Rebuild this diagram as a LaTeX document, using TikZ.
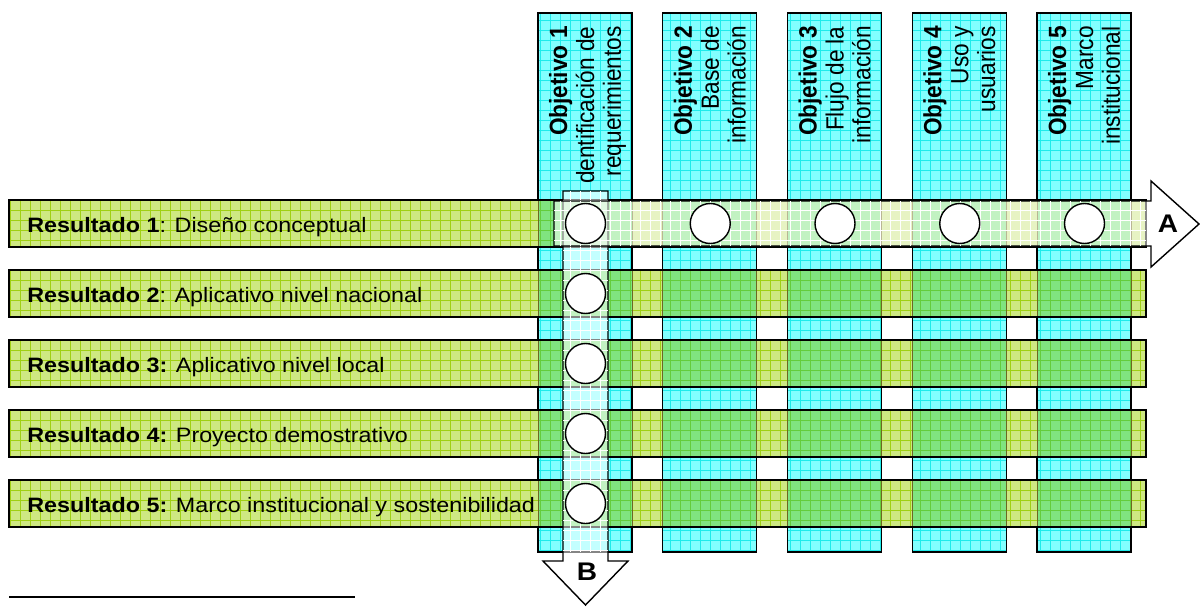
\documentclass[tikz,border=0pt]{standalone}
\usepackage{fontspec}
\setmainfont{Liberation Sans}
\usetikzlibrary{calc}

\definecolor{colfill}{RGB}{130,255,255}
\definecolor{colgrid}{RGB}{30,235,235}
\definecolor{rowfill}{RGB}{206,232,130}
\definecolor{rowgrid}{RGB}{160,208,20}
\definecolor{bothfill}{RGB}{128,228,128}
\definecolor{bothgrid}{RGB}{100,205,60}

\newcommand{\objtxt}[3]{\scalebox{1}[1.1]{\begin{tabular}{@{}r@{}}\textbf{#1}\\#2\\#3\end{tabular}}}

\tikzset{
  edge/.style={draw=black, line width=0.8pt},
  gridline/.style={step=0.2cm, line width=0.3pt},
  band/.style={fill=white, fill opacity=0.52, draw=black, line width=0.8pt},
  circ/.style={circle, draw=black, fill=white, line width=0.8pt, minimum size=0.8cm, inner sep=0pt},
  rowtext/.style={anchor=base west, inner sep=0pt, xscale=1.12, font=\fontsize{11.85}{13}\selectfont},
  coltext/.style={rotate=90, anchor=north east, inner sep=0pt,
    font=\fontsize{12.9}{13.9}\selectfont},
  arrowlbl/.style={inner sep=0pt, xscale=1.1, font=\fontsize{14.5}{16}\selectfont\bfseries}
}

\begin{document}
\begin{tikzpicture}[x=0.02cm, y=-0.02cm]
  \useasboundingbox (0,0) rectangle (1200,606);

  % objetivos
  \foreach \i in {0,...,4} {
    \pgfmathsetmacro{\xl}{538+124.75*\i}
    \fill[colfill] (\xl,13) rectangle ++(94,539);
    \draw[colgrid, gridline] (\xl,13) grid ++(94,539);
    \draw[edge] (\xl,13) rectangle ++(94,539);
  }

  % resultados
  \foreach \j in {0,...,4} {
    \pgfmathsetmacro{\yt}{200+70*\j}
    \fill[rowfill] (9,\yt) rectangle (1146,\yt+47);
    \draw[rowgrid, gridline] (9,\yt) grid (1146,\yt+47);
    \foreach \i in {0,...,4} {
      \pgfmathsetmacro{\xl}{538+124.75*\i}
      \fill[bothfill] (\xl,\yt) rectangle ++(94,47);
      \draw[bothgrid, gridline] (\xl,\yt) grid ++(94,47);
      \draw[olive!70!black, line width=0.4pt] (\xl,\yt) -- ++(0,47) (\xl+94,\yt) -- ++(0,47);
    }
    \draw[edge] (9,\yt) rectangle (1146,\yt+47);
  }

  \node[rowtext] (res1) at (27,232) {\textbf{Resultado 1}: Diseño conceptual};
  \node[rowtext] (res2) at (27,302) {\textbf{Resultado 2}: Aplicativo nivel nacional};
  \node[rowtext] (res3) at (27,372) {\textbf{Resultado 3:} Aplicativo nivel local};
  \node[rowtext] (res4) at (27,442) {\textbf{Resultado 4:} Proyecto demostrativo};
  \node[rowtext] (res5) at (27,512) {\textbf{Resultado 5:} Marco institucional y sostenibilidad};

  \node[coltext] (obj1) at (548,26) {\objtxt{Objetivo 1}{dentificación de}{requerimientos}};
  \node[coltext] (obj2) at (672.75,26) {\objtxt{Objetivo 2}{Base de}{información}};
  \node[coltext] (obj3) at (797.5,26) {\objtxt{Objetivo 3}{Flujo de la}{información}};
  \node[coltext] (obj4) at (922.25,26) {\objtxt{Objetivo 4}{Uso y}{usuarios}};
  \node[coltext] (obj5) at (1047,26) {\objtxt{Objetivo 5}{Marco}{institucional}};

  % flecha B
  \filldraw[band] (563,191) -- (608,191) -- (608,561) -- (628,561) -- (585.5,605)
    -- (543,561) -- (563,561) -- cycle;
  \draw[white, gridline] (563,191) grid (608,552);

  % flecha A
  \filldraw[band] (554,201) -- (1151,201) -- (1151,181) -- (1199,224) -- (1151,267)
    -- (1151,246) -- (554,246) -- cycle;
  \draw[white, gridline] (554,201) grid (1146,246);

  \foreach \i in {1,...,5}
    \node[circ] (a\i) at (460.75+124.75*\i,223.5) {};
  \foreach \j in {2,...,5}
    \node[circ] (b\j) at (585.5,153.5+70*\j) {};

  \node[arrowlbl] (lblA) at (1168,224) {A};
  \node[arrowlbl] (lblB) at (587,572) {B};

  \coordinate (fnl) at (9,597);
  \coordinate (fnr) at (355,597);
  \draw[line width=1.1pt] (fnl) -- (fnr);
\end{tikzpicture}
\end{document}
